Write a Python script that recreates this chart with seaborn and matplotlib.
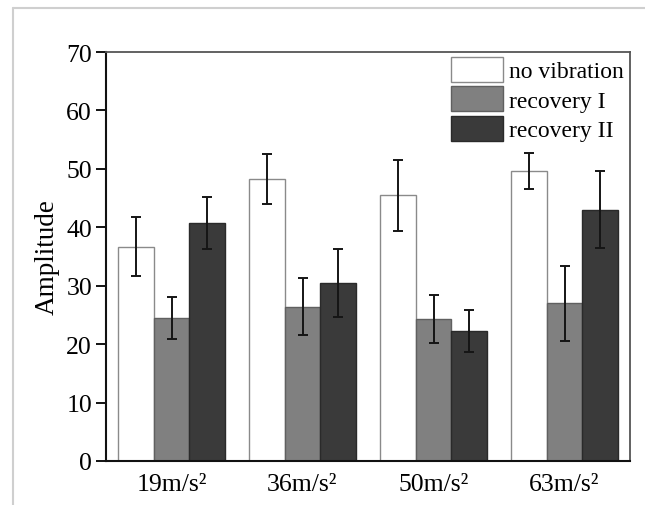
import numpy as np
import pandas as pd
import matplotlib
matplotlib.use("Agg")
import matplotlib.pyplot as plt
from matplotlib.lines import Line2D
import seaborn as sns

categories = ["19m/s²", "36m/s²", "50m/s²", "63m/s²"]
series = ["no vibration", "recovery I", "recovery II"]
no_vibration = [36.7, 48.2, 45.5, 49.6]
recovery_1 = [24.5, 26.4, 24.3, 27.0]
recovery_2 = [40.7, 30.5, 22.2, 43.0]
err_no_vibration = [5.0, 4.3, 6.1, 3.1]
err_recovery_1 = [3.6, 4.85, 4.05, 6.4]
err_recovery_2 = [4.5, 5.8, 3.6, 6.55]

values = [no_vibration, recovery_1, recovery_2]
errors = [err_no_vibration, err_recovery_1, err_recovery_2]

df = pd.DataFrame({
    "category": np.tile(categories, len(series)),
    "series": np.repeat(series, len(categories)),
    "value": np.concatenate(values),
})

sns.set_theme(style="white")
plt.rcParams["font.family"] = ["Liberation Serif", "DejaVu Serif"]
plt.rcParams["mathtext.fontset"] = "stix"

fig = plt.figure(figsize=(6.45, 5.06), dpi=100)
ax = fig.add_axes([106 / 645, 44 / 506, 524 / 645, 409 / 506])

palette = {"no vibration": "#ffffff", "recovery I": "#808080", "recovery II": "#3a3a3a"}
edges = ["#8a8a8a", "#606060", "#2a2a2a"]

sns.barplot(data=df, x="category", y="value", hue="series", order=categories,
            hue_order=series, palette=palette, width=0.81, errorbar=None,
            linewidth=1.0, ax=ax, saturation=1)

bar_containers = list(ax.containers)[:len(series)]
for i, cont in enumerate(bar_containers):
    for bar in cont:
        bar.set_edgecolor(edges[i])
    xs = [b.get_x() + b.get_width() / 2 for b in cont]
    hs = [b.get_height() for b in cont]
    ax.errorbar(xs, hs, yerr=errors[i], fmt="none", ecolor="#151515",
                elinewidth=1.4, capsize=3.4, capthick=1.4, zorder=5)

ax.set_ylim(0, 70)
ax.set_yticks(np.arange(0, 71, 10))
ax.set_xlim(-0.5, 3.5)
ax.set_xlabel("")
ax.set_ylabel("Amplitude", fontsize=19.5, labelpad=5, color="black")
ax.tick_params(axis="y", which="major", left=True, length=7, width=1.3,
               direction="out", labelsize=18.5, pad=3, colors="black")
ax.tick_params(axis="x", which="major", bottom=False, labelsize=18.5, pad=3, colors="black")

for side in ["left", "bottom"]:
    ax.spines[side].set_color("#111111")
    ax.spines[side].set_linewidth(1.5)
for side in ["top", "right"]:
    ax.spines[side].set_color("#555555")
    ax.spines[side].set_linewidth(1.3)
    ax.spines[side].set_visible(True)

handles, labels = ax.get_legend_handles_labels()
leg = ax.legend(handles, labels, loc="upper right", bbox_to_anchor=(1.0 - 2 / 524, 1.0),
                frameon=False, fontsize=17,
                handlelength=2.2, handleheight=1.25, labelspacing=0.17,
                handletextpad=0.25, borderpad=0.2, borderaxespad=0.0)
for h, ec in zip(leg.legend_handles, edges):
    h.set_edgecolor(ec)
for t in leg.get_texts():
    t.set_color("black")

# light gray frame remnant around the figure
fig.add_artist(Line2D([13 / 645, 1.0], [1 - 9 / 506, 1 - 9 / 506],
                      transform=fig.transFigure, color="#cfcfcf", linewidth=1.5))
fig.add_artist(Line2D([13 / 645, 13 / 645], [0.0, 1 - 9 / 506],
                      transform=fig.transFigure, color="#cfcfcf", linewidth=1.5))

fig.savefig("out.png", dpi=100, facecolor="white")
